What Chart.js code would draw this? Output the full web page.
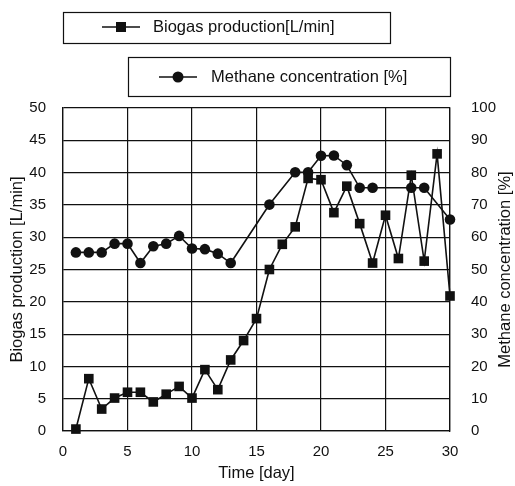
<!DOCTYPE html>
<html>
<head>
<meta charset="utf-8">
<script src="https://cdn.jsdelivr.net/npm/chart.js@4.4.0/dist/chart.umd.min.js"></script>
<style>
html, body { margin: 0; padding: 0; background: #fff; }
#contenedor { width: 515px; height: 486px; }
</style>
</head>
<body>
<div id="contenedor"><canvas id="grafica" width="515" height="486"></canvas></div>
<script>
// Datos
var dias_biogas = [1,2,3,4,5,6,7,8,9,10,11,12,13,14,15,16,17,18,19,20,21,22,23,24,25,26,27,28,29,30];
var biogas = [0.3,8.1,3.4,5.1,6.0,6.0,4.5,5.7,6.9,5.1,9.5,6.4,11.0,14.0,17.4,25.0,28.9,31.6,39.1,38.9,33.8,37.9,32.1,26.0,33.4,26.7,39.6,26.3,42.9,20.9];
var dias_metano = [1,2,3,4,5,6,7,8,9,10,11,12,13,16,18,19,20,21,22,23,24,27,28,30];
var metano = [55.3,55.3,55.3,58.0,58.0,52.0,57.2,58.0,60.4,56.5,56.3,54.9,52.0,70.1,80.1,80.1,85.2,85.3,82.3,75.3,75.3,75.3,75.3,65.5];

var ticks_x = [0,5,10,15,20,25,30];
var ticks_biogas = [0,5,10,15,20,25,30,35,40,45,50];
var ticks_metano = [0,10,20,30,40,50,60,70,80,90,100];

var etiqueta_biogas = 'Biogas production[L/min]';
var etiqueta_metano = 'Methane concentration [%]';
var titulo_x = 'Time [day]';
var titulo_izq = 'Biogas production [L/min]';
var titulo_der = 'Methane concentration [%]';

var fuente = '"Liberation Sans", Arial, sans-serif';
var negro = '#111';

function puntos(xs, ys) {
	var res = [];
	for (var i = 0; i < xs.length; i++) {
		res.push({ x: xs[i], y: ys[i] });
	}
	return res;
}

function fijaTicks(lista) {
	return function (scale) {
		scale.ticks = lista.map(function (v) { return { value: v }; });
	};
}

/* Plugin que dibuja las dos cajas de leyenda y el titulo del eje derecho (leido de abajo hacia arriba) */
var leyenda = {
	id: 'leyenda',
	afterDraw: function (chart) {
		var ctx = chart.ctx;
		ctx.save();
		ctx.strokeStyle = negro;
		ctx.fillStyle = negro;
		ctx.lineWidth = 1.2;

		// caja 1: biogas
		ctx.strokeRect(63.5, 12.5, 327, 31);
		ctx.lineWidth = 1.6;
		ctx.beginPath();
		ctx.moveTo(102, 27); ctx.lineTo(140, 27);
		ctx.stroke();
		ctx.fillRect(116, 22, 10, 10);

		// caja 2: metano
		ctx.lineWidth = 1.2;
		ctx.strokeRect(128.5, 57.5, 322, 39);
		ctx.lineWidth = 1.6;
		ctx.beginPath();
		ctx.moveTo(159, 77); ctx.lineTo(197, 77);
		ctx.stroke();
		ctx.beginPath();
		ctx.arc(178, 77, 5.5, 0, Math.PI * 2);
		ctx.fill();

		ctx.font = '16.5px ' + fuente;
		ctx.textBaseline = 'middle';
		ctx.textAlign = 'left';
		ctx.fillText(etiqueta_biogas, 153, 27);
		ctx.fillText(etiqueta_metano, 211, 77);

		// titulo eje derecho
		var area = chart.chartArea;
		ctx.translate(505, (area.top + area.bottom) / 2);
		ctx.rotate(-Math.PI / 2);
		ctx.textAlign = 'center';
		ctx.font = '16.5px ' + fuente;
		ctx.fillText(titulo_der, 0, 0);
		ctx.restore();
	}
};

var config = {
	type: 'line',
	data: {
		datasets: [{
			label: etiqueta_biogas,
			data: puntos(dias_biogas, biogas),
			yAxisID: 'y',
			borderColor: negro,
			backgroundColor: negro,
			borderWidth: 1.6,
			pointStyle: 'rect',
			pointRadius: 6.8,
			pointBorderWidth: 0,
			clip: false
		}, {
			label: etiqueta_metano,
			data: puntos(dias_metano, metano),
			yAxisID: 'yR',
			borderColor: negro,
			backgroundColor: negro,
			borderWidth: 1.6,
			pointStyle: 'circle',
			pointRadius: 5.3,
			pointBorderWidth: 0,
			clip: false
		}]
	},
	options: {
		responsive: false,
		animation: false,
		layout: { padding: { top: 108, left: 0, right: 0, bottom: 0 } },
		plugins: {
			legend: { display: false },
			tooltip: { enabled: false }
		},
		scales: {
			x: {
				type: 'linear',
				min: 0,
				max: 30,
				afterBuildTicks: fijaTicks(ticks_x),
				afterFit: function (scale) { scale.height = 55; },
				grid: { color: negro, lineWidth: 1.2, drawTicks: false },
				border: { color: negro, width: 1.3 },
				ticks: { color: negro, font: { family: fuente, size: 15 }, padding: 12, maxRotation: 0 },
				title: { display: true, text: titulo_x, color: negro, font: { family: fuente, size: 16.5 }, padding: { top: 0, bottom: 3 } }
			},
			y: {
				position: 'left',
				min: 0,
				max: 50,
				afterBuildTicks: fijaTicks(ticks_biogas),
				afterFit: function (scale) { scale.width = 63; },
				grid: { color: negro, lineWidth: 1.2, drawTicks: false },
				border: { color: negro, width: 1.3 },
				ticks: { color: negro, font: { family: fuente, size: 15 }, padding: 17 },
				title: { display: true, text: titulo_izq, color: negro, font: { family: fuente, size: 16.5 }, padding: { top: 8, bottom: 0 } }
			},
			yR: {
				position: 'right',
				min: 0,
				max: 100,
				afterBuildTicks: fijaTicks(ticks_metano),
				afterFit: function (scale) { scale.width = 65; },
				grid: { drawOnChartArea: false, drawTicks: false },
				border: { color: negro, width: 1.3 },
				ticks: { color: negro, font: { family: fuente, size: 15 }, padding: 21 },
				title: { display: false }
			}
		}
	},
	plugins: [leyenda]
};

var grafica = new Chart(document.getElementById('grafica'), config);
</script>
</body>
</html>
